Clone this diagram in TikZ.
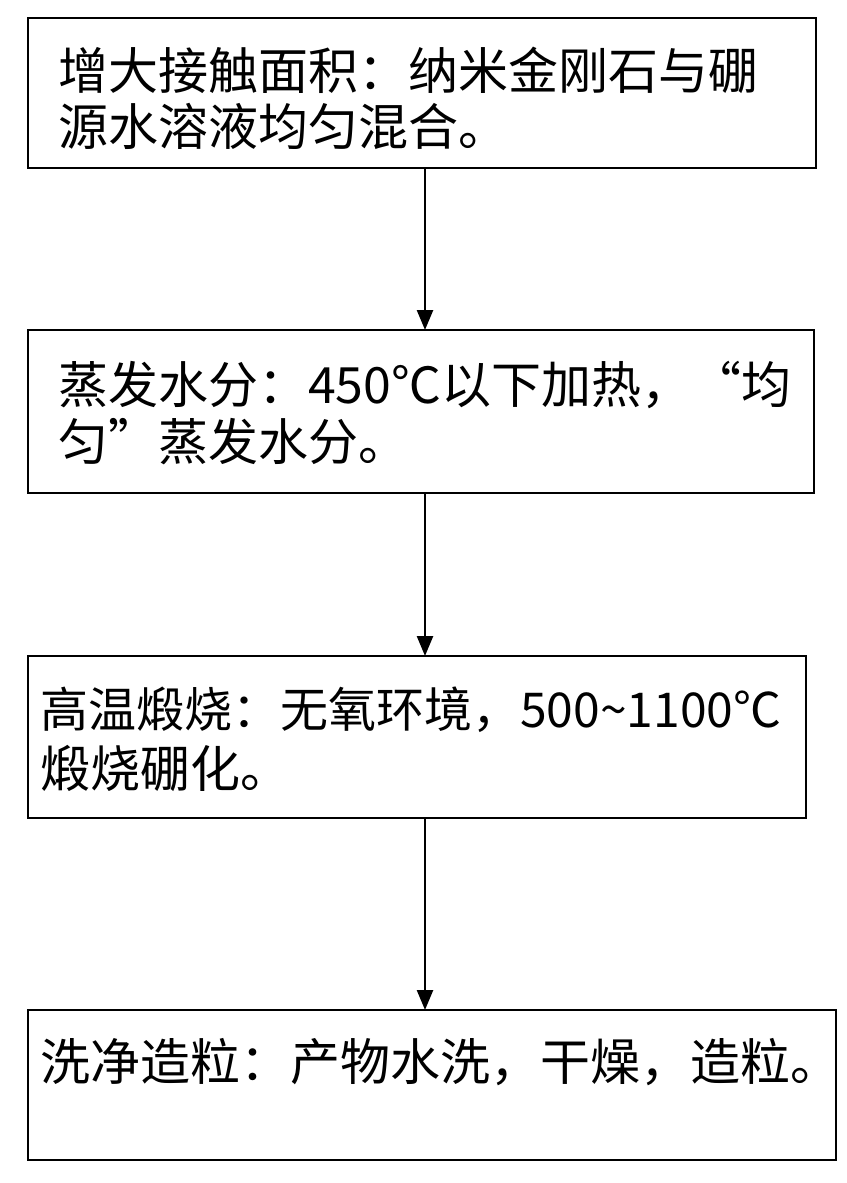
\documentclass[tikz,border=0pt]{standalone}
\usepackage{fontspec}
\setmainfont{Noto Sans CJK SC}
\usetikzlibrary{arrows.meta}
\begin{document}
\begin{tikzpicture}[x=1pt,y=-1pt,
 box/.style={draw,line width=2.5pt},
 txt/.style={anchor=west,inner sep=0pt,font=\fontsize{50}{54}\selectfont},
 arr/.style={line width=2.5pt,-{Triangle[width=16pt,length=20pt]}}]
\useasboundingbox (0,0) rectangle (846,1183);
\draw[box] (28,18) rectangle (816,168);
\draw[box] (28,330) rectangle (814,493);
\draw[box] (28,656) rectangle (806,818);
\draw[box] (28,1010) rectangle (836,1160);
\coordinate (a1) at (425,168); \coordinate (b1) at (425,330);
\coordinate (a2) at (425,493); \coordinate (b2) at (425,656);
\coordinate (a3) at (425,818); \coordinate (b3) at (425,1010);
\draw[arr] (a1) -- (b1);
\draw[arr] (a2) -- (b2);
\draw[arr] (a3) -- (b3);
\node[txt] (t1) at (58,70) {增大接触面积：纳米金刚石与硼};
\node[txt] (t2) at (58,126) {源水溶液均匀混合。};
\node[txt] (t3) at (58,385) {蒸发水分：450℃以下加热，“均};
\node[txt] (t4) at (58,442) {匀”蒸发水分。};
\node[txt,font=\fontsize{48}{54}\selectfont] (t5) at (40,710) {高温煅烧：无氧环境，500\char"007E 1100℃};
\node[txt] (t6) at (40,768) {煅烧硼化。};
\node[txt] (t7) at (40,1062) {洗净造粒：产物水洗，干燥，造粒。};
\end{tikzpicture}
\end{document}
